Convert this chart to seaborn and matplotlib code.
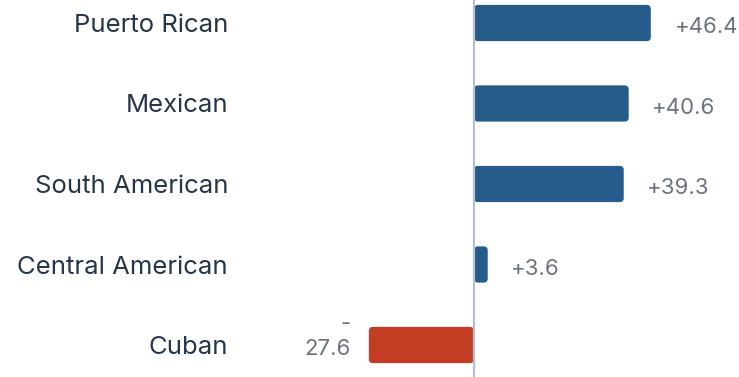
import matplotlib
matplotlib.use("Agg")
import matplotlib.pyplot as plt
import seaborn as sns
import pandas as pd
from matplotlib.patches import FancyBboxPatch

categories = ["Puerto Rican", "Mexican", "South American", "Central American", "Cuban"]
values = [46.4, 40.6, 39.3, 3.6, -27.6]
value_labels = ["+46.4", "+40.6", "+39.3", "+3.6", "-\n27.6"]

POS = "#265C8A"
NEG = "#C23D23"
CAT_COLOR = "#26364A"
VAL_COLOR = "#6B7280"

sns.set_theme(style="white")
plt.rcParams["font.family"] = ["Inter", "DejaVu Sans"]

df = pd.DataFrame({"category": categories, "value": values})
df["sign"] = ["pos" if v >= 0 else "neg" for v in values]

fig = plt.figure(figsize=(7.39, 3.77), dpi=100)
ax = fig.add_axes([235 / 739, 0, 1 - 235 / 739, 1])

sns.barplot(data=df, y="category", x="value", hue="sign", palette={"pos": POS, "neg": NEG},
            order=categories, width=0.45, legend=False, ax=ax, dodge=False, saturation=1)

ppx = 3.81  # px per unit
x_left = (235 - 474) / ppx
x_right = (739 - 474) / ppx
ax.set_xlim(x_left, x_right)
ax.set_ylim(4 + 32 / 80.5, -23 / 80.5)

# rounded bars
rx = 4 / ppx
ry = 4 / 80.5
for p in list(ax.patches):
    x, y = p.get_x(), p.get_y()
    w, h = p.get_width(), p.get_height()
    if w < 0:
        x, w = x + w, -w
    fc = p.get_facecolor()
    p.remove()
    fb = FancyBboxPatch((x, y), w, h,
                        boxstyle=f"round,pad=0,rounding_size={rx}",
                        mutation_aspect=ry / rx, facecolor=fc, edgecolor="none", zorder=3)
    ax.add_patch(fb)

ax.axvline(0, color="#B4C0D0", lw=1.6, zorder=4)

for i, (v, lab) in enumerate(zip(values, value_labels)):
    if v >= 0:
        ax.annotate(lab, (v, i), xytext=(17, -3), textcoords="offset points",
                    ha="left", va="center", fontsize=16, color=VAL_COLOR)
    else:
        ax.annotate(lab, (v, i), xytext=(-13, 6), textcoords="offset points",
                    ha="right", va="center", fontsize=16, color=VAL_COLOR,
                    multialignment="right", linespacing=1.3)

ax.set_xlabel("")
ax.set_ylabel("")
ax.set_xticks([])
ax.tick_params(axis="y", length=0, pad=5, labelsize=18.5, labelcolor=CAT_COLOR)
for s in ax.spines.values():
    s.set_visible(False)

fig.savefig("out.png", dpi=100)
